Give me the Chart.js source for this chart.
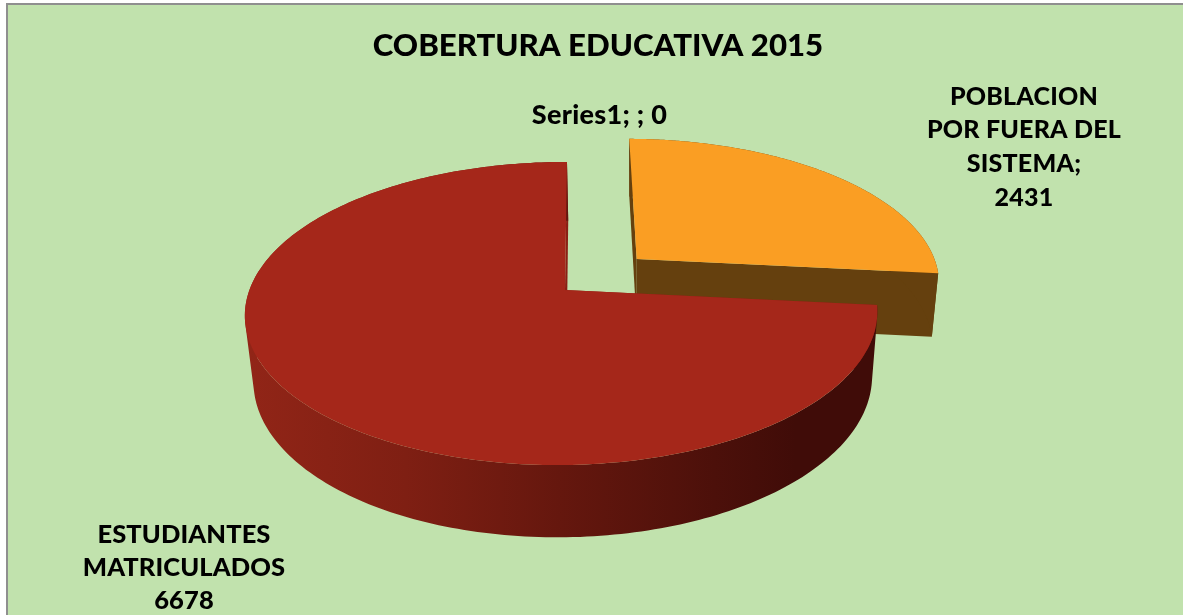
<!DOCTYPE html>
<html><head><meta charset="utf-8">
<style>html,body{margin:0;padding:0;background:#fff;overflow:hidden}canvas{display:block}</style>
<script src="https://cdn.jsdelivr.net/npm/chart.js@4"></script>
</head><body><canvas id="c" width="1183" height="615"></canvas>
<script>
const chartTitle = 'COBERTURA EDUCATIVA 2015';
const seriesName = 'Series1';
const categories = ['', 'POBLACION POR FUERA DEL SISTEMA', 'ESTUDIANTES MATRICULADOS'];
const values = [0, 2431, 6678];
const topColors = ['#4F81BD', '#FA9E23', '#A5271A'];
const wallColors = ['#2F4D71', '#65400E', '#8A2015'];

// depth-projected pie: a unit disc laid on a plane and seen in perspective
const P = {cx:565, cy:290, a:312.4, b:-2.3, c:1.5, d:-0.8, e:147.9, f:66.5, g:0.011, h:-0.155, i:0.022};
function proj(x, y, z){
  const w = 1 + P.g*x + P.h*y + P.i*z;
  return [P.cx + (P.a*x + P.b*y + P.c*z)/w, P.cy + (P.d*x + P.e*y + P.f*z)/w];
}
const explodeShift = [[0,0],[0.236,-0.216],[0,0]];

function addPoly(ctx, pts){
  // every sub-path gets the same winding so that overlaps never cancel out
  let area = 0;
  pts.forEach((p,i)=>{const q=pts[(i+1)%pts.length]; area += p[0]*q[1]-q[0]*p[1];});
  const list = area < 0 ? pts.slice().reverse() : pts;
  list.forEach((p,i)=> i ? ctx.lineTo(p[0],p[1]) : ctx.moveTo(p[0],p[1]));
  ctx.closePath();
}
function poly(ctx, pts, fill){
  ctx.beginPath();
  addPoly(ctx, pts);
  ctx.fillStyle = fill;
  ctx.fill();
}

const pie3d = {
  id:'pie3d',
  beforeDraw(chart){
    const {ctx, width, height} = chart;
    ctx.save();
    ctx.fillStyle = '#fff'; ctx.fillRect(0,0,width,height);
    ctx.fillStyle = '#8F8F8F'; ctx.fillRect(6,3,width-6,height-3);
    ctx.fillStyle = '#C1E2AD'; ctx.fillRect(8,5,width-8,height-5);
    ctx.restore();
  },
  beforeDatasetDraw(chart, args){
    const {ctx} = chart;
    const arcs = args.meta.data;
    ctx.save();
    arcs.forEach((arc, idx) => {
      const {startAngle, endAngle} = arc.getProps(['startAngle','endAngle'], true);
      if (endAngle - startAngle <= 1e-6) return;
      const [ox, oy] = explodeShift[idx];
      const pt = (ang, r, z) => proj(ox + Math.cos(ang)*r, oy + Math.sin(ang)*r, z);
      const n = 240, topArc = [], botArc = [];
      for (let k=0;k<=n;k++){
        const t = startAngle + (endAngle-startAngle)*k/n;
        topArc.push(pt(t,1,0)); botArc.push(pt(t,1,1));
      }
      // radial faces
      [startAngle,endAngle].forEach(t => poly(ctx,[pt(t,0,0),pt(t,1,0),pt(t,1,1),pt(t,0,1)],wallColors[idx]));
      // curved wall
      let wall = wallColors[idx];
      if (idx === 2){
        const g = ctx.createLinearGradient(250,0,870,0);
        g.addColorStop(0,'#912517');
        g.addColorStop(0.25,'#7F1F13');
        g.addColorStop(0.5,'#65170E');
        g.addColorStop(0.75,'#4C100A');
        g.addColorStop(0.88,'#400C08');
        g.addColorStop(1,'#400C08');
        wall = g;
      }
      ctx.beginPath();
      for (let k=0;k<n;k++) addPoly(ctx,[topArc[k],topArc[k+1],botArc[k+1],botArc[k]]);
      ctx.fillStyle = wall;
      ctx.fill();
      // top face
      poly(ctx, [pt(0,0,0)].concat(topArc), topColors[idx]);
    });
    ctx.restore();
    return false;
  },
  afterDraw(chart){
    const {ctx} = chart;
    ctx.save();
    ctx.fillStyle = '#000';
    ctx.textAlign = 'center';
    ctx.textBaseline = 'middle';
    const blocks = [
      {x:599.5, y:115, lh:33.5, size:27, ls:'0.3px', lines:[seriesName + '; ' + categories[0] + '; ' + values[0]]},
      {x:1024, y:96.5, lh:33.7, size:25, ls:'0.2px', lines:['POBLACION','POR FUERA DEL','SISTEMA;',String(values[1])]},
      {x:184, y:535, lh:32.7, size:25.5, ls:'0.1px', lines:['ESTUDIANTES','MATRICULADOS',String(values[2])]}
    ];
    blocks.forEach(b => {
      ctx.font = '900 ' + b.size + 'px Lato';
      ctx.letterSpacing = b.ls;
      b.lines.forEach((s,i)=> ctx.fillText(s, b.x, b.y + i*b.lh));
    });
    ctx.restore();
  }
};

new Chart(document.getElementById('c'), {
  type:'pie',
  data:{labels:categories, datasets:[{label:seriesName, data:values, backgroundColor:topColors, borderWidth:0}]},
  options:{
    responsive:false, animation:false,
    layout:{padding:{left:13}},
    plugins:{
      legend:{display:false}, tooltip:{enabled:false},
      title:{display:true, text:chartTitle, color:'#000', align:'center',
             font:{family:'Lato', size:31.2, weight:'900'}, padding:{top:27, bottom:0}}
    }
  },
  plugins:[pie3d]
});
</script></body></html>
